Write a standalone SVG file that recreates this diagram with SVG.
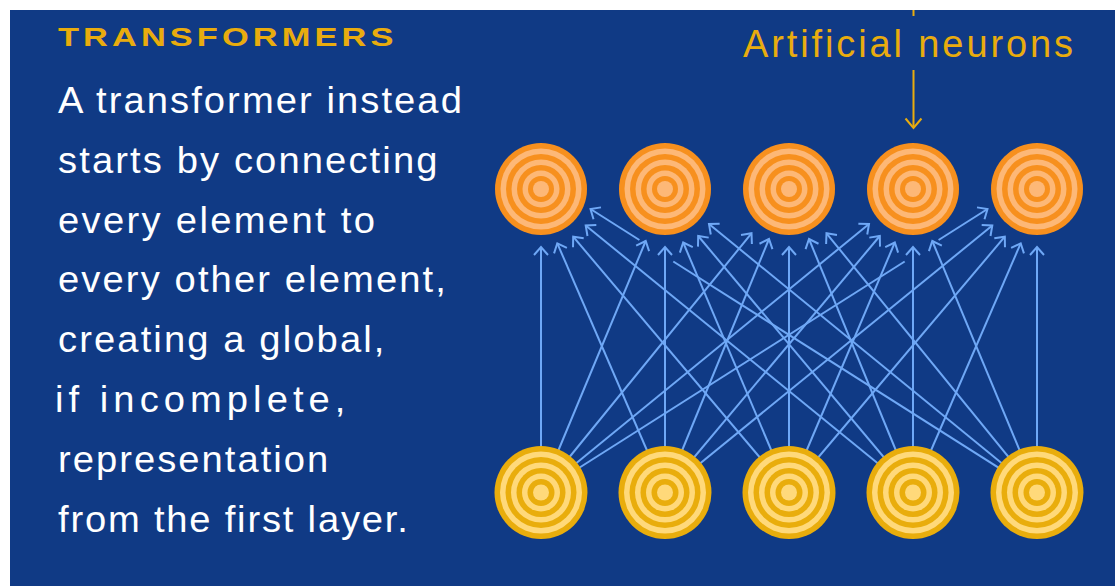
<svg xmlns="http://www.w3.org/2000/svg" width="1115" height="586" viewBox="0 0 1115 586">
<defs>
<style>
.bg{fill:#103a85}
.conn line{stroke:#6fa8f6;stroke-width:2;fill:none}
.arr{marker-end:url(#arrow)}
.title{font-family:"Liberation Sans",Arial,sans-serif;font-weight:bold;font-size:26.5px;fill:#e9ac0e}
.body{font-family:"Liberation Sans",Arial,sans-serif;font-size:36px;fill:#ffffff}
.label{font-family:"Liberation Sans",Arial,sans-serif;font-size:38px;fill:#e9ac0e}
.gold{stroke:#e9ac0e;stroke-width:2;fill:none}
.od{fill:#f7901e}.ol{fill:#fdb877}
.yd{fill:#e9ad0c}.yl{fill:#ffd97a}
</style>
<marker id="arrow" markerUnits="userSpaceOnUse" markerWidth="16" markerHeight="16" refX="12" refY="8" orient="auto" overflow="visible">
<path d="M4,1 L12,8 L4,15" fill="none" stroke="#6fa8f6" stroke-width="2"/>
</marker>
<g id="ringO">
<circle r="46" class="od"/><circle r="40.5" class="ol"/><circle r="35" class="od"/><circle r="29.5" class="ol"/><circle r="24" class="od"/><circle r="18.5" class="ol"/><circle r="13" class="od"/><circle r="8" class="ol"/>
</g>
<g id="ringY">
<circle r="46.5" class="yd"/><circle r="41" class="yl"/><circle r="35.5" class="yd"/><circle r="30" class="yl"/><circle r="24.5" class="yd"/><circle r="19" class="yl"/><circle r="13.5" class="yd"/><circle r="8" class="yl"/>
</g>
</defs>
<rect width="1115" height="586" fill="#ffffff"/>
<rect class="bg" x="10" y="10" width="1105" height="576"/>

<g id="text-block">
<text class="title" transform="translate(58,45.5) scale(1.3,1)" x="0" y="0" textLength="258" lengthAdjust="spacing">TRANSFORMERS</text>
<text class="body" transform="translate(58,113) scale(1.06,1)" textLength="381" lengthAdjust="spacing">A transformer instead</text>
<text class="body" transform="translate(58,173) scale(1.06,1)" textLength="358" lengthAdjust="spacing">starts by connecting</text>
<text class="body" transform="translate(58,233) scale(1.06,1)" textLength="299" lengthAdjust="spacing">every element to</text>
<text class="body" transform="translate(58,292) scale(1.06,1)" textLength="366" lengthAdjust="spacing">every other element,</text>
<text class="body" transform="translate(58,352) scale(1.06,1)" textLength="308" lengthAdjust="spacing">creating a global,</text>
<text class="body" transform="translate(55,412) scale(1.06,1)" textLength="274" lengthAdjust="spacing">if incomplete,</text>
<text class="body" transform="translate(58,472) scale(1.06,1)" textLength="255" lengthAdjust="spacing">representation</text>
<text class="body" transform="translate(58,532) scale(1.06,1)" textLength="330" lengthAdjust="spacing">from the first layer.</text>
</g>

<g id="label-artificial-neurons">
<line class="gold" x1="913.5" y1="10" x2="913.5" y2="16"/>
<text class="label" x="743" y="57" textLength="330" lengthAdjust="spacing">Artificial neurons</text>
<line class="gold" x1="913.5" y1="70" x2="913.5" y2="128"/>
<path class="gold" d="M905.5,118.5 L913.5,128 L921.5,118.5"/>
</g>

<g id="connectors" class="conn">
<line class="arr" x1="541" y1="492" x2="541" y2="247"/>
<line class="arr" x1="541" y1="492" x2="645.7" y2="241"/>
<line class="arr" x1="541" y1="492" x2="751.5" y2="233.3"/>
<line class="arr" x1="541" y1="492" x2="869" y2="224"/>
<line x1="541" y1="492" x2="904.7" y2="261.5"/>
<line class="arr" x1="938.6" y1="240" x2="987.5" y2="209"/>
<line class="arr" x1="665" y1="492" x2="557.3" y2="243.3"/>
<line class="arr" x1="665" y1="492" x2="665" y2="247"/>
<line class="arr" x1="665" y1="492" x2="769" y2="239"/>
<line class="arr" x1="665" y1="492" x2="879.8" y2="236"/>
<line class="arr" x1="665" y1="492" x2="992.3" y2="225.5"/>
<line class="arr" x1="789" y1="492" x2="573.2" y2="236.7"/>
<line class="arr" x1="789" y1="492" x2="683.2" y2="242.5"/>
<line class="arr" x1="789" y1="492" x2="789" y2="247"/>
<line class="arr" x1="789" y1="492" x2="894.8" y2="242.5"/>
<line class="arr" x1="789" y1="492" x2="1004.8" y2="236.7"/>
<line class="arr" x1="913" y1="492" x2="585.7" y2="225.5"/>
<line class="arr" x1="913" y1="492" x2="698.2" y2="236"/>
<line class="arr" x1="913" y1="492" x2="809" y2="239"/>
<line class="arr" x1="913" y1="492" x2="913" y2="247"/>
<line class="arr" x1="913" y1="492" x2="1020.7" y2="243.3"/>
<line x1="1037" y1="492" x2="673.3" y2="261.5"/>
<line class="arr" x1="639.4" y1="240" x2="590.5" y2="209"/>
<line class="arr" x1="1037" y1="492" x2="709" y2="224"/>
<line class="arr" x1="1037" y1="492" x2="826.5" y2="233.3"/>
<line class="arr" x1="1037" y1="492" x2="932.3" y2="241"/>
<line class="arr" x1="1037" y1="492" x2="1037" y2="247"/>
</g>

<g id="top-neuron-1"><use href="#ringO" x="541" y="189"/></g>
<g id="top-neuron-2"><use href="#ringO" x="665" y="189"/></g>
<g id="top-neuron-3"><use href="#ringO" x="789" y="189"/></g>
<g id="top-neuron-4"><use href="#ringO" x="913" y="189"/></g>
<g id="top-neuron-5"><use href="#ringO" x="1037" y="189"/></g>

<g id="bottom-neuron-1"><use href="#ringY" x="541" y="492.5"/></g>
<g id="bottom-neuron-2"><use href="#ringY" x="665" y="492.5"/></g>
<g id="bottom-neuron-3"><use href="#ringY" x="789" y="492.5"/></g>
<g id="bottom-neuron-4"><use href="#ringY" x="913" y="492.5"/></g>
<g id="bottom-neuron-5"><use href="#ringY" x="1037" y="492.5"/></g>
</svg>
